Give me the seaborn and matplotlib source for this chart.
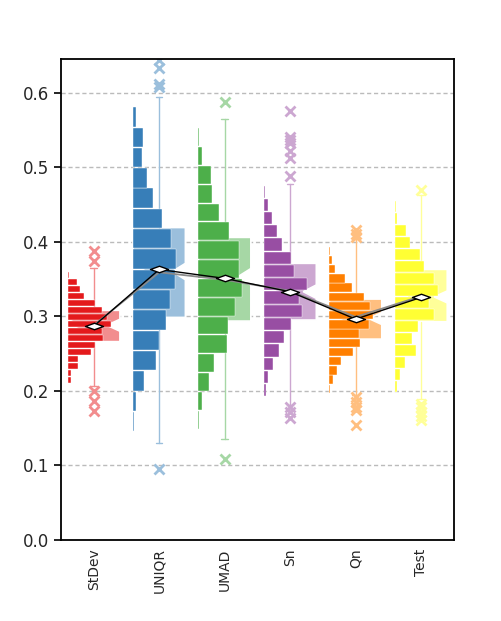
import numpy as np
import pandas as pd
import seaborn as sns
import matplotlib
matplotlib.use("Agg")
import matplotlib.pyplot as plt
from matplotlib.path import Path

# categories
names = ["StDev", "UNIQR", "UMAD", "Sn", "Qn", "Test"]

# histogram bar lengths (relative counts, bottom bin -> top bin), 16 bins each
hist_stdev = [3, 3, 10, 10, 23, 27, 35, 34, 43, 39, 34, 27, 16, 12, 9, 1]
hist_uniqr = [1, 3, 11, 23, 26, 33, 37, 42, 43, 38, 29, 20, 14, 9, 10, 3]
hist_umad = [1, 4, 10, 15, 28, 29, 36, 43, 40, 40, 30, 20, 13, 12, 4, 1]
hist_sn = [2, 4, 9, 15, 20, 27, 38, 35, 43, 30, 27, 18, 13, 8, 4, 1]
hist_qn = [1, 4, 8, 12, 23, 30, 29, 39, 43, 40, 34, 22, 16, 6, 3, 1]
hist_test = [2, 5, 10, 21, 17, 23, 39, 34, 43, 39, 29, 25, 15, 11, 2, 1]
hist_lo = [0.2095, 0.145, 0.1488, 0.192, 0.1966, 0.1975]
hist_hi = [0.360, 0.581, 0.5527, 0.476, 0.394, 0.4549]

# box statistics
whislo = [0.207, 0.130, 0.136, 0.181, 0.194, 0.189]
q1 = [0.266, 0.2985, 0.2936, 0.295, 0.2694, 0.2927]
med = [0.288, 0.360, 0.353, 0.333, 0.297, 0.326]
q3 = [0.308, 0.419, 0.4058, 0.371, 0.3231, 0.3629]
whishi = [0.365, 0.594, 0.565, 0.478, 0.403, 0.462]
ci_lo = [0.280, 0.349, 0.342, 0.324, 0.289, 0.318]
ci_hi = [0.296, 0.371, 0.364, 0.342, 0.305, 0.334]
fliers = [
    [0.387, 0.374, 0.200, 0.186, 0.173],
    [0.643, 0.633, 0.612, 0.607, 0.095],
    [0.587, 0.108],
    [0.5755, 0.541, 0.536, 0.532, 0.521, 0.512, 0.488, 0.179, 0.172, 0.164],
    [0.4155, 0.411, 0.4067, 0.192, 0.1855, 0.1788, 0.1743, 0.1542],
    [0.469, 0.183, 0.178, 0.172, 0.166, 0.161],
]

means = [0.2868, 0.3628, 0.3508, 0.3329, 0.2962, 0.3253]
medians_line = [0.288, 0.359, 0.349, 0.334, 0.299, 0.327]

hists = [hist_stdev, hist_uniqr, hist_umad, hist_sn, hist_qn, hist_test]

sns.set_style("white")
plt.rcParams['font.family'] = ['DejaVu Sans']
colors = sns.color_palette("Set1", 6)
light = [tuple(0.5 * np.array(c) + 0.5) for c in colors]

fig = plt.figure(figsize=(5.02, 6.21), dpi=100)
ax = fig.add_axes([0.1215, 0.1304, 0.7825, 0.7746])

pos = np.arange(len(names))
width = 0.8

stats = []
for i, n in enumerate(names):
    stats.append(dict(label=n, whislo=whislo[i], q1=q1[i], med=med[i], q3=q3[i],
                      whishi=whishi[i], cilo=ci_lo[i], cihi=ci_hi[i], fliers=fliers[i]))

bp = ax.bxp(stats, positions=pos, widths=width, shownotches=True, patch_artist=True,
            capwidths=0.1, manage_ticks=False, zorder=1)
for i in range(len(names)):
    bp['boxes'][i].set(facecolor=light[i], edgecolor='white', linewidth=1.2)
    for w in bp['whiskers'][2 * i:2 * i + 2]:
        w.set(color=light[i], linewidth=1)
    for c in bp['caps'][2 * i:2 * i + 2]:
        c.set(color=light[i], linewidth=1)
    bp['medians'][i].set(visible=False)
    bp['fliers'][i].set(marker='x', markeredgecolor=light[i], markersize=7,
                        markeredgewidth=2, linestyle='none')

# horizontal histograms starting at left edge of box
max_len = 0.66
gap = 0.0013
for i, h in enumerate(hists):
    h = np.array(h, dtype=float)
    edges = np.linspace(hist_lo[i], hist_hi[i], len(h) + 1)
    centers = (edges[:-1] + edges[1:]) / 2
    binw = edges[1] - edges[0]
    ax.barh(centers, h / h.max() * max_len, left=pos[i] - width / 2, height=binw - gap,
            color=colors[i], edgecolor='white', linewidth=0.3, zorder=2)

line_df = pd.DataFrame({"x": pos, "mean": means, "median": medians_line})
sns.lineplot(data=line_df, x="x", y="median", color="#8a8a8a", linewidth=1.3,
             ax=ax, zorder=3)
diamond = Path([(-1, 0), (0, 0.36), (1, 0), (0, -0.36), (-1, 0)],
               [Path.MOVETO, Path.LINETO, Path.LINETO, Path.LINETO, Path.CLOSEPOLY])
sns.lineplot(data=line_df, x="x", y="mean", color="black", linewidth=1,
             marker=diamond, markersize=13, markerfacecolor="white",
             markeredgecolor="black", markeredgewidth=1, ax=ax, zorder=4)

ax.set_xlim(-0.5, 5.5)
ax.set_ylim(0, 0.645)
ax.set_xticks(pos)
ax.set_xticklabels(names, rotation=90, fontsize=10)
ax.set_yticks(np.arange(0, 0.61, 0.1))
ax.set_yticklabels([f"{v:.1f}" for v in np.arange(0, 0.61, 0.1)], fontsize=12)
ax.tick_params(axis='x', length=0, pad=6)
ax.tick_params(axis='y', length=5, width=1.2, color='black', left=True)
ax.set_xlabel("")
ax.set_ylabel("")
ax.yaxis.grid(True, linestyle=(0, (3, 2)), color='#bbbbbb', linewidth=1)
ax.set_axisbelow(True)
for s in ax.spines.values():
    s.set_color('black')
    s.set_linewidth(1.3)

fig.savefig("out.png", dpi=100)
